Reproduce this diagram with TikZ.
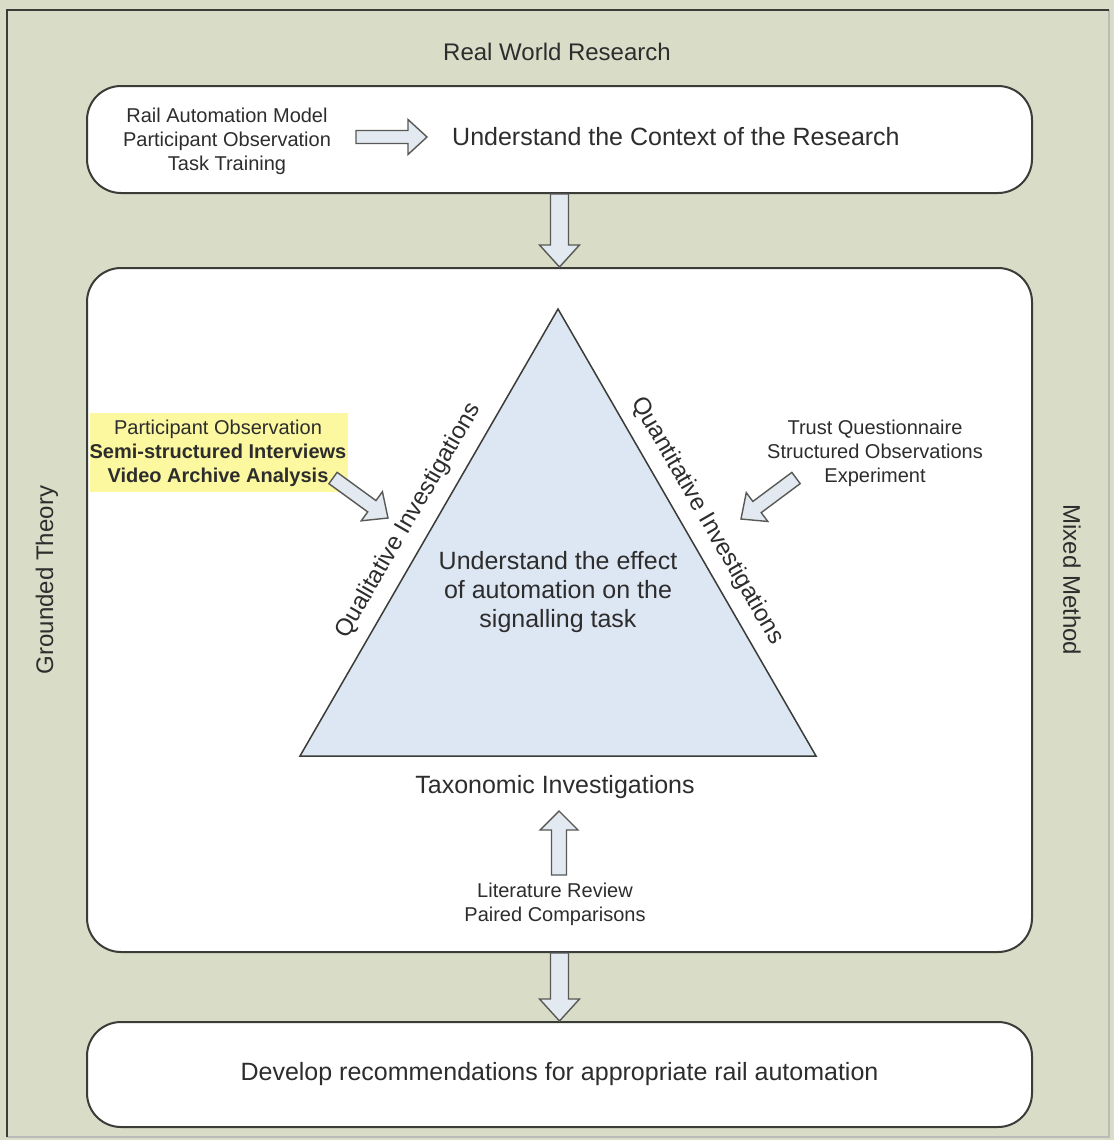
\documentclass[tikz,border=0pt]{standalone}
\usepackage{fontspec}
\setmainfont{Liberation Sans}
\usetikzlibrary{calc}

\definecolor{bgcol}{RGB}{217,221,199}
\definecolor{framecol}{RGB}{58,60,55}
\definecolor{tricol}{RGB}{221,230,243}
\definecolor{arrowcol}{RGB}{226,233,241}
\definecolor{hilite}{RGB}{252,248,160}
\definecolor{txtcol}{RGB}{45,45,45}

\tikzset{
  roundbox/.style={draw=framecol, line width=2pt, fill=white, rounded corners=34pt, inner sep=0pt},
  fatarrowline/.style={draw=framecol!85, line width=1.4pt, fill=arrowcol, line join=miter},
  bigtext/.style={text=txtcol, font=\fontsize{25}{29}\selectfont, inner sep=0pt, align=center},
  smalltext/.style={text=txtcol, font=\fontsize{20}{24}\selectfont, inner sep=0pt, align=center},
  sidetext/.style={text=txtcol, font=\fontsize{24}{28}\selectfont, inner sep=0pt},
}

% block arrow from #1 to #2: shaft half width #3, head half width #4, head length #5
\newcommand{\fatarrow}[5]{%
  \coordinate (fa-h) at ($(#2)!#5pt!(#1)$);
  \draw[fatarrowline] ($(#1)!#3pt!90:(#2)$) -- ($(fa-h)!#3pt!-90:(#1)$) -- ($(fa-h)!#4pt!-90:(#1)$) -- (#2)
    -- ($(fa-h)!#4pt!90:(#1)$) -- ($(fa-h)!#3pt!90:(#1)$) -- ($(#1)!#3pt!-90:(#2)$) -- cycle;}

\begin{document}
\begin{tikzpicture}[x=1pt,y=-1pt]
  \useasboundingbox (0,0) rectangle (1114,1140);

  %Shape: Background and frame
  \fill[bgcol] (0,0) rectangle (1114,1140);
  \draw[framecol!35, line width=1.5pt] (1109,10) -- (1109,1137) -- (7,1137);
  \draw[framecol, line width=2pt] (7,1137) -- (7,10) -- (1109,10);

  %Shape: Rounded Rectangles
  \node[roundbox, minimum width=945pt, minimum height=107pt] (ctxbox) at (559.5,139.5) {};
  \node[roundbox, minimum width=945pt, minimum height=684pt] (effbox) at (559.5,610) {};
  \node[roundbox, minimum width=945pt, minimum height=105pt] (recbox) at (559.5,1074.5) {};

  %Shape: Highlight
  \fill[hilite] (90,413) rectangle (348,492);

  %Shape: Triangle
  \coordinate (apex) at (558,309);
  \coordinate (triL) at (300,756);
  \coordinate (triR) at (816,756);
  \draw[framecol, line width=1.5pt, fill=tricol] (triL) -- (apex) -- (triR) -- cycle;
  \path (triL) -- (apex) node[midway, sloped, above=12pt, sidetext] (qual) {Qualitative Investigations};
  \path (apex) -- (triR) node[midway, sloped, above=12pt, sidetext] (quant) {Quantitative Investigations};

  % Text Node
  \node[sidetext] (rwr) at (557,52) {Real World Research};
  \node[sidetext, rotate=90] (gt) at (47,580) {Grounded Theory};
  \node[sidetext, rotate=-90] (mm) at (1072,580) {Mixed Method};
  % Text Node
  \node[smalltext] (ctxsrc) at (227,141) {Rail Automation Model\\Participant Observation\\Task Training};
  \node[bigtext, anchor=west] (ctx) at (452,137) {Understand the Context of the Research};
  % Text Node
  \node[smalltext] (qualsrc) at (218,453) {Participant Observation\\\textbf{Semi-structured Interviews}\\\textbf{Video Archive Analysis}};
  \node[smalltext] (quantsrc) at (875,453) {Trust Questionnaire\\Structured Observations\\Experiment};
  \node[bigtext] (effect) at (558,592) {Understand the effect\\of automation on the\\signalling task};
  \node[bigtext] (taxo) at (555,787) {Taxonomic Investigations};
  \node[smalltext] (taxosrc) at (555,904) {Literature Review\\Paired Comparisons};
  % Text Node
  \node[bigtext] (rec) at (559.5,1074) {Develop recommendations for appropriate rail automation};

  %Block Arrows
  \coordinate (ctxA) at (356,137);
  \coordinate (ctxB) at (427,137);
  \coordinate (qualA) at (333,478);
  \coordinate (qualB) at (388,518);
  \coordinate (quantA) at (796,478);
  \coordinate (quantB) at (741,519);
  \coordinate (taxoA) at (559,875);
  \coordinate (taxoB) at (559,811);
  \fatarrow{ctxA}{ctxB}{6.5}{17.5}{19}
  \fatarrow{qualA}{qualB}{7}{18}{20}
  \fatarrow{quantA}{quantB}{7}{18}{20}
  \fatarrow{taxoA}{taxoB}{7.5}{19}{19}
  \fatarrow{ctxbox.south}{effbox.north}{9}{20}{22}
  \fatarrow{effbox.south}{recbox.north}{9}{20}{22}

\end{tikzpicture}
\end{document}
